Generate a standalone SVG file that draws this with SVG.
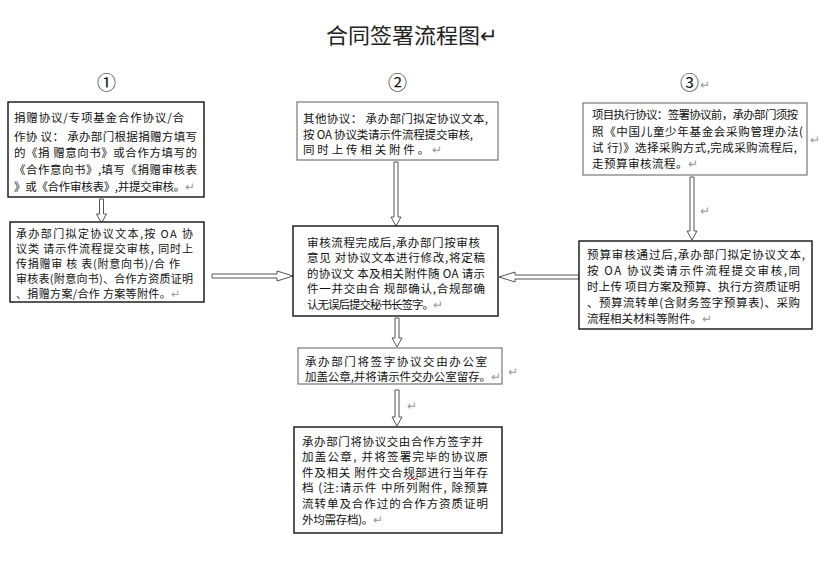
<svg xmlns="http://www.w3.org/2000/svg" width="840" height="562" viewBox="0 0 840 562">
<style>
text{font-family:"Noto Sans CJK SC","Noto Sans",sans-serif;fill:#111}
.t{font-size:11.5px}
.s{font-size:11px}
.ret{fill:#999}
.title{font-size:21px;fill:#222}
.num{font-size:19px;fill:#111}
.bk{fill:#fff;stroke:#111;stroke-width:1.4}
.bg{fill:#fff;stroke:#777;stroke-width:1.2}
.arr{fill:#fff;stroke:#555;stroke-width:1}
</style>
<rect width="840" height="562" fill="#fff"/>
<text class="title" x="326" y="43" textLength="154" lengthAdjust="spacingAndGlyphs">合同签署流程图</text>
<text class="title ret" x="480" y="43" font-size="16">↵</text>
<text class="num" x="97" y="90">①</text>
<text class="num" x="388" y="90">②</text>
<text class="num" x="680" y="90">③</text>
<text class="t ret" x="700" y="89">↵</text>

<g id="connectors">
<path class="arr" d="M99.5,199 H103.5 V214 H106.5 L101.5,223 L96.5,214 H99.5 Z"/>
<path class="arr" d="M394,162 H398 V217 H401 L396,226 L391,217 H394 Z"/>
<path class="arr" d="M690,177 H694 V231 H697 L692,240 L687,231 H690 Z"/>
<path class="arr" d="M395,318 H399 V338 H402 L397,347 L392,338 H395 Z"/>
<path class="arr" d="M395,390 H399 V417 H402 L397,426 L392,417 H395 Z"/>
<path class="arr" d="M212,274 V278 H277 V281 L293,276 L277,271 V274 Z"/>
<path class="arr" d="M579,275 V279 H515 V282 L499,277 L515,272 V275 Z"/>
<text class="t ret" x="700" y="215">↵</text>
<text class="t ret" x="407" y="410">↵</text>
</g>

<g id="node1">
<rect class="bk" x="8" y="102" width="196" height="95"/>
<text class="t" x="14" y="122" textLength="170" lengthAdjust="spacing">捐赠协议/专项基金合作协议/合</text>
<text class="t" x="14" y="141" textLength="183" lengthAdjust="spacing">作协 议： 承办部门根据捐赠方填写</text>
<text class="t" x="14" y="157" textLength="183" lengthAdjust="spacing">的《捐 赠意向书》或合作方填写的</text>
<text class="t" x="14" y="174" textLength="183" lengthAdjust="spacing">《合作意向书》,填写《捐赠审核表</text>
<text class="t" x="14" y="191" textLength="181" lengthAdjust="spacing">》或《合作审核表》,并提交审核。<tspan class="ret">↵</tspan></text>
</g>

<g id="node2">
<rect class="bg" x="297" y="102" width="201" height="58"/>
<text class="t" x="303" y="123" textLength="185" lengthAdjust="spacing">其他协议： 承办部门拟定协议文本,</text>
<text class="t" x="303" y="139" textLength="170" lengthAdjust="spacing">按 OA 协议类请示件流程提交审核,</text>
<text class="t" x="303" y="154" textLength="139" lengthAdjust="spacing">同时上传相关附件。<tspan class="ret">↵</tspan></text>
</g>

<g id="node3">
<rect class="bg" x="583" y="103" width="224" height="72"/>
<text class="t" x="592" y="119" textLength="206" lengthAdjust="spacing">项目执行协议：签署协议前，承办部门须按</text>
<text class="t" x="592" y="136" textLength="211" lengthAdjust="spacing">照《中国儿童少年基金会采购管理办法(</text>
<text class="t" x="592" y="152" textLength="205" lengthAdjust="spacing">试 行)》选择采购方式,完成采购流程后,</text>
<text class="t" x="592" y="168" textLength="106" lengthAdjust="spacing">走预算审核流程。<tspan class="ret">↵</tspan></text>
<text class="t ret" x="810" y="144">↵</text>
</g>

<g id="node4">
<rect class="bk" x="10" y="222" width="194" height="80"/>
<text class="s" x="16" y="238" textLength="177" lengthAdjust="spacing">承办部门拟定协议文本,按 OA 协</text>
<text class="s" x="16" y="253" textLength="177" lengthAdjust="spacing">议类 请示件流程提交审核, 同时上</text>
<text class="s" x="16" y="268" textLength="164" lengthAdjust="spacing">传捐赠审 核 表(附意向书)/合 作</text>
<text class="s" x="16" y="283" textLength="177" lengthAdjust="spacing">审核表(附意向书)、合作方资质证明</text>
<text class="s" x="16" y="298" textLength="164" lengthAdjust="spacing">、捐赠方案/合作 方案等附件。<tspan class="ret">↵</tspan></text>
</g>

<g id="node5">
<rect class="bk" x="293" y="226" width="205" height="90"/>
<text class="t" x="307" y="247" textLength="173" lengthAdjust="spacing">审核流程完成后,承办部门按审核</text>
<text class="t" x="307" y="262" textLength="178" lengthAdjust="spacing">意见 对协议文本进行修改,将定稿</text>
<text class="t" x="307" y="278" textLength="178" lengthAdjust="spacing">的协议文 本及相关附件随 OA 请示</text>
<text class="t" x="307" y="293" textLength="178" lengthAdjust="spacing">件一并交由合 规部确认,合规部确</text>
<text class="t" x="307" y="309" textLength="136" lengthAdjust="spacing">认无误后提交秘书长签字。<tspan class="ret">↵</tspan></text>
</g>

<g id="node6">
<rect class="bk" x="579" y="241" width="233" height="88"/>
<text class="t" x="587" y="259" textLength="218" lengthAdjust="spacing">预算审核通过后,承办部门拟定协议文本,</text>
<text class="t" x="587" y="275" textLength="213" lengthAdjust="spacing">按 OA 协议类请示件流程提交审核,同</text>
<text class="t" x="587" y="291" textLength="213" lengthAdjust="spacing">时上传 项目方案及预算、执行方资质证明</text>
<text class="t" x="587" y="307" textLength="213" lengthAdjust="spacing">、预算流转单(含财务签字预算表)、采购</text>
<text class="t" x="587" y="323" textLength="125" lengthAdjust="spacing">流程相关材料等附件。<tspan class="ret">↵</tspan></text>
</g>

<g id="node7">
<rect class="bg" x="298" y="348" width="204" height="36"/>
<text class="t" x="305" y="366" textLength="182" lengthAdjust="spacing">承办部门将签字协议交由办公室</text>
<text class="t" x="305" y="381" textLength="196" lengthAdjust="spacing">加盖公章,并将请示件交办公室留存。<tspan class="ret">↵</tspan></text>
<text class="t ret" x="508" y="376">↵</text>
</g>

<g id="node8">
<rect class="bk" x="294" y="427" width="208" height="106"/>
<text class="t" x="302" y="446" textLength="181" lengthAdjust="spacing">承办部门将协议交由合作方签字并</text>
<text class="t" x="302" y="461" textLength="186" lengthAdjust="spacing">加盖公章, 并将签署完毕的协议原</text>
<text class="t" x="302" y="477" textLength="186" lengthAdjust="spacing">件及相关 附件交合规部进行当年存</text>
<text class="t" x="302" y="492" textLength="186" lengthAdjust="spacing">档 (注:请示件 中所列附件, 除预算</text>
<text class="t" x="302" y="508" textLength="186" lengthAdjust="spacing">流转单及合作过的合作方资质证明</text>
<text class="t" x="302" y="524" textLength="81" lengthAdjust="spacing">外均需存档)。<tspan class="ret">↵</tspan></text>
<path d="M406,480 l2,-2 l2,2 l2,-2 l2,2 l2,-2 l2,2" fill="none" stroke="#d22" stroke-width="1"/>
</g>
</svg>
